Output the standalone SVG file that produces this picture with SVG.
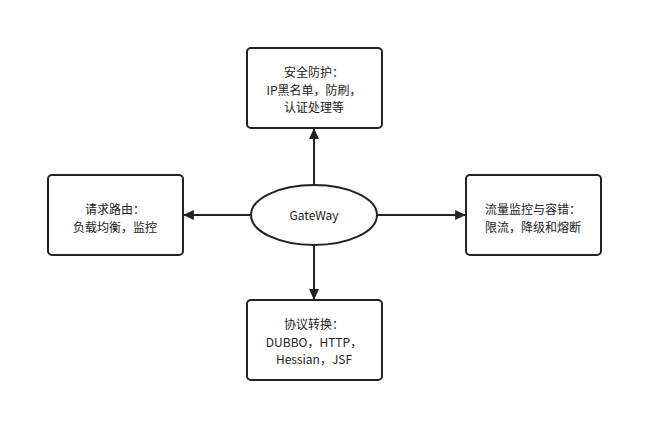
<svg xmlns="http://www.w3.org/2000/svg" width="663" height="443" viewBox="0 0 663 443">
<style>
.box{fill:#fff;stroke:#222;stroke-width:2}
.t{font-family:"Noto Sans CJK SC","Noto Sans",sans-serif;font-size:12px;fill:#222;text-anchor:middle}
.c{stroke:#222;stroke-width:2;fill:none}
</style>
<defs>
<marker id="a" viewBox="0 0 10 10" refX="9" refY="5" markerWidth="11" markerHeight="11" markerUnits="userSpaceOnUse" orient="auto"><path d="M0,0.5 L10,5 L0,9.5 Z" fill="#222"/></marker>
</defs>
<rect width="663" height="443" fill="#fff"/>
<g id="connectors">
<line class="c" x1="314" y1="185" x2="314" y2="129" marker-end="url(#a)"/>
<line class="c" x1="251" y1="215" x2="184" y2="215" marker-end="url(#a)"/>
<line class="c" x1="377" y1="215" x2="465" y2="215" marker-end="url(#a)"/>
<line class="c" x1="314" y1="245" x2="314" y2="299" marker-end="url(#a)"/>
</g>
<g id="gateway">
<ellipse class="box" cx="314" cy="215" rx="63" ry="30"/>
<text class="t" x="314" y="220">GateWay</text>
</g>
<g id="security">
<rect class="box" x="247" y="48" width="135" height="80" rx="4"/>
<text class="t" x="314" y="77">安全防护：</text>
<text class="t" x="314" y="94.5">IP黑名单，防刷，</text>
<text class="t" x="314" y="112">认证处理等</text>
</g>
<g id="routing">
<rect class="box" x="48" y="175" width="135" height="80" rx="4"/>
<text class="t" x="115" y="214">请求路由：</text>
<text class="t" x="115" y="231.5">负载均衡，监控</text>
</g>
<g id="flow">
<rect class="box" x="466" y="175" width="135" height="80" rx="4"/>
<text class="t" x="533" y="214">流量监控与容错：</text>
<text class="t" x="533" y="231.5">限流，降级和熔断</text>
</g>
<g id="protocol">
<rect class="box" x="247" y="300" width="135" height="80" rx="4"/>
<text class="t" x="314" y="329">协议转换：</text>
<text class="t" x="314" y="346.5">DUBBO，HTTP，</text>
<text class="t" x="314" y="364">Hessian，JSF</text>
</g>
</svg>
